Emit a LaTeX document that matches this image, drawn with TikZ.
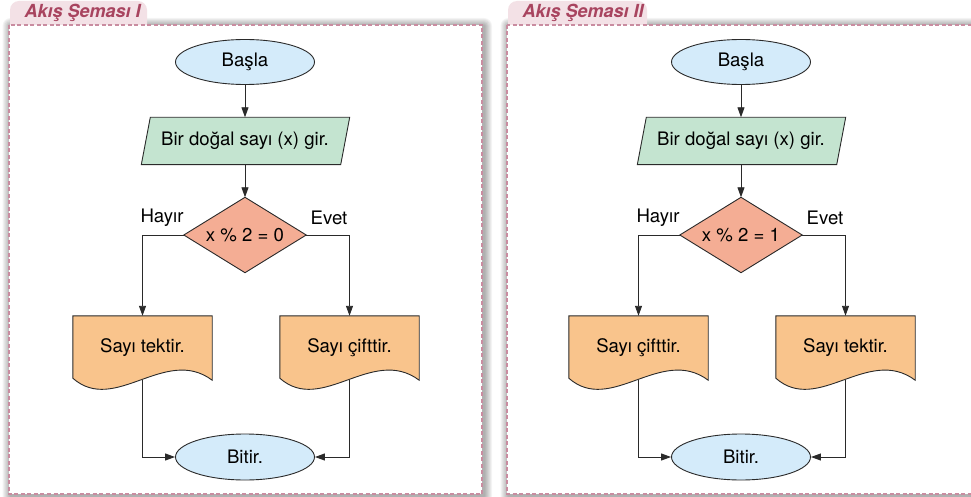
\documentclass[tikz,border=0pt]{standalone}
\usepackage{fontspec}
\setmainfont{TeX Gyre Heros}
\usetikzlibrary{arrows.meta,shapes.geometric,calc}

\definecolor{termfill}{HTML}{D4EBFA}
\definecolor{iofill}{HTML}{C4E4D0}
\definecolor{decfill}{HTML}{F4AD94}
\definecolor{docfill}{HTML}{F9C48C}
\definecolor{linecol}{HTML}{2A2A2A}
\definecolor{tabfill}{HTML}{F3E1E6}
\definecolor{tabtext}{HTML}{A8445F}
\definecolor{framecol}{HTML}{C98CA0}

\pgfdeclarelayer{back}
\pgfdeclarelayer{shapes}
\pgfsetlayers{back,shapes,main}

\tikzset{
  term/.style={ellipse, draw=linecol, fill=termfill, line width=0.9pt,
    minimum width=139pt, minimum height=45pt, inner sep=0pt},
  box/.style={rectangle, inner sep=0pt},
  shapeline/.style={draw=linecol, line width=0.9pt},
  conn/.style={draw=linecol, line width=0.9pt,
    -{Triangle[length=10pt,width=7pt]}},
  branch/.style={inner sep=0pt},
  tabtitle/.style={text=tabtext, font=\fontsize{18}{20}\selectfont\bfseries\itshape},
  frame/.style={draw=framecol, line width=1.1pt, dash pattern=on 4pt off 2.5pt, fill=white},
}

% one panel: soft shadow, title tab and dashed frame
\newcommand\drawpanel[6]{% x1, y1, x2, y2, tab right edge, title
  \begin{pgfonlayer}{back}
    \foreach \i in {1,...,8}
      \fill[black, opacity=0.045, rounded corners=\i pt]
        (#1-\i+1.5, #2-\i+1) rectangle (#3+\i+2, #4+\i+2);
    \fill[tabfill, rounded corners=9pt] (#1+1, #2+12) -- (#1+1, 1) -- (#5, 1) -- (#5, #2+12) -- cycle;
    \draw[frame] (#1, #2) rectangle (#3, #4);
  \end{pgfonlayer}
  \node[tabtitle, anchor=west] at (#1+12, 13) {#6};
}

% one flowchart, shifted horizontally by #1
\newcommand\flowchart[5]{% shift, prefix, test, left text, right text
  \begin{scope}[xshift=#1]
    \node[term] (#2start) at (245,62) {Başla};
    \node[box, minimum width=199pt, minimum height=47pt] (#2in) at (245,141) {Bir doğal sayı (x) gir.};
    \node[box, minimum width=122pt, minimum height=75pt] (#2dec) at (245,235) {#3};
    \node[box, minimum width=139pt, minimum height=64pt] (#2ldoc) at (142.5,348) {#4};
    \node[box, minimum width=139pt, minimum height=64pt] (#2rdoc) at (349.5,348) {#5};
    \node[term, minimum height=46pt] (#2end) at (245,457) {Bitir.};
    \node[branch] (#2no) at (162,218) {Hayır};
    \node[branch] (#2yes) at (329,218) {Evet};

    \begin{pgfonlayer}{shapes}
      \draw[shapeline, fill=iofill]
        ($(#2in.north west)+(5,0)$) -- ($(#2in.north east)+(5,0)$) --
        ($(#2in.south east)+(-4,0)$) -- ($(#2in.south west)+(-4,0)$) -- cycle;
      \draw[shapeline, fill=decfill]
        (#2dec.north) -- (#2dec.east) -- (#2dec.south) -- (#2dec.west) -- cycle;
      \foreach \d in {ldoc,rdoc}
        \draw[shapeline, fill=docfill]
          (#2\d.north west) -- (#2\d.north east) -- (#2\d.south east)
          .. controls ($(#2\d.south east)+(-47,-35)$) and ($(#2\d.south west)+(42,35)$) ..
          ($(#2\d.south west)+(0,-2)$) -- cycle;
    \end{pgfonlayer}

    \draw[conn] (#2start.south) -- (#2start.south |- #2in.north);
    \draw[conn] (#2in.south) -- (#2dec.north);
    \draw[conn] (#2dec.west) -| (#2ldoc.north);
    \draw[conn] (#2dec.east) -| (#2rdoc.north);
    \draw[conn] (#2ldoc.south) |- (#2end.west);
    \draw[conn] (#2rdoc.south) |- (#2end.east);
  \end{scope}
}

\begin{document}
\begin{tikzpicture}[x=1pt, y=-1pt, font=\fontsize{18.6}{22}\selectfont, text=black]
  \useasboundingbox (0,0) rectangle (971,497);
  \begin{pgfonlayer}{back}
    \fill[white] (0,0) rectangle (971,497);
  \end{pgfonlayer}

  \drawpanel{9}{25}{482}{494}{147}{Akış Şeması I}
  \drawpanel{507}{25}{995}{494}{647}{Akış Şeması II}

  \flowchart{0pt}{a}{x \% 2 = 0}{Sayı tektir.}{Sayı çifttir.}
  \flowchart{496pt}{b}{x \% 2 = 1}{Sayı çifttir.}{Sayı tektir.}
\end{tikzpicture}
\end{document}
